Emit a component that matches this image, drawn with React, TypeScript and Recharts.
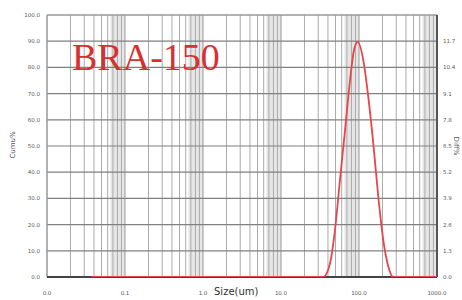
import React from 'react';
import { LineChart, Line, XAxis, YAxis, ReferenceLine, ReferenceArea } from 'recharts';

const sizes = [0.037, 34.8, 42.5, 49.2, 57.0, 66.2, 76.7, 86.3, 96.2, 113.5, 131.5, 152.5, 176.7, 205, 237.6, 275, 1000];
const diffPct = [0, 0, 0.68, 2.33, 4.81, 7.28, 9.75, 11.26, 11.67, 10.76, 8.94, 6.63, 3.98, 1.82, 0.52, 0, 0];

const xTicks = [0.01, 0.1, 1, 10, 100, 1000];
const leftTicks = [0, 10, 20, 30, 40, 50, 60, 70, 80, 90, 100];
const rightTicks = [0, 1.3, 2.6, 3.9, 5.2, 6.5, 7.8, 9.1, 10.4, 11.7];
const decades = [0.01, 0.1, 1, 10, 100];
const multipliers = [2, 3, 4, 5, 6, 7, 8, 9];
const hGrid = [10, 20, 30, 40, 50, 60, 70, 80, 90];

const data = sizes.map((s, i) => ({ size: s, diff: diffPct[i] }));
const vMinor = decades.flatMap((d) => multipliers.map((m) => +(d * m).toPrecision(3)));
const vMajor = [0.1, 1, 10, 100];

const tickStyle = { fontSize: 5.5, fill: '#5a5a5a', fontFamily: 'DejaVu Sans' };

export default function App() {
  return (
    <div style={{ position: 'absolute', left: 0, top: 0, width: 462, height: 300, background: '#fff' }}>
      <LineChart width={462} height={300} data={data} margin={{ top: 15, right: 0, left: 0, bottom: 0 }}>
        <XAxis
          dataKey="size"
          type="number"
          scale="log"
          domain={[0.01, 1000]}
          ticks={xTicks}
          allowDataOverflow
          height={23}
          tickLine={false}
          axisLine={false}
          tickSize={0}
          tickMargin={14}
          tick={tickStyle}
          tickFormatter={(v: number) => (v < 0.1 ? '0.0' : v.toFixed(1))}
        />
        <YAxis
          yAxisId="left"
          domain={[0, 100]}
          ticks={leftTicks}
          width={47}
          allowDataOverflow
          tickLine={false}
          axisLine={false}
          tickSize={0}
          tickMargin={7}
          tick={tickStyle}
          tickFormatter={(v: number) => v.toFixed(1)}
        />
        <YAxis
          yAxisId="right"
          orientation="right"
          domain={[0, 13]}
          ticks={rightTicks}
          width={25}
          allowDataOverflow
          tickLine={false}
          axisLine={false}
          tickSize={0}
          tickMargin={6}
          tick={{ ...tickStyle, textAnchor: 'start' }}
          tickFormatter={(v: number) => v.toFixed(1)}
        />
        {decades.map((d) => (
          <ReferenceArea key={'b' + d} yAxisId="left" x1={d * 6.5} x2={d * 10} y1={0} y2={100} fill="#e6e6e6" fillOpacity={1} stroke="none" />
        ))}
        {vMinor.map((v) => (
          <ReferenceLine key={'m' + v} yAxisId="left" x={v} stroke="#ababab" strokeWidth={1} />
        ))}
        {vMajor.map((v) => (
          <ReferenceLine key={'M' + v} yAxisId="left" x={v} stroke="#999" strokeWidth={1} />
        ))}
        {hGrid.map((v) => (
          <ReferenceLine key={'h' + v} yAxisId="left" y={v} stroke="#808080" strokeWidth={1.2} />
        ))}
        <ReferenceLine yAxisId="left" y={100} stroke="#999" strokeWidth={1.5} />
        <ReferenceLine yAxisId="left" x={0.01} stroke="#999" strokeWidth={1.5} />
        <ReferenceLine yAxisId="left" x={1000} stroke="#555" strokeWidth={2} />
        <ReferenceLine yAxisId="left" y={0} stroke="#444" strokeWidth={2} />
        <Line
          yAxisId="left"
          dataKey="diff"
          type="monotone"
          stroke="none"
          dot={false}
          activeDot={false}
          isAnimationActive={false}
        />
        <Line
          yAxisId="right"
          dataKey="diff"
          type="monotone"
          stroke="#e8454a"
          strokeWidth={1.8}
          dot={false}
          isAnimationActive={false}
        />
      </LineChart>
      <div
        style={{
          position: 'absolute', left: 72, top: 35, fontFamily: 'Liberation Serif', fontSize: 38,
          color: '#d8302f', lineHeight: '44px', whiteSpace: 'nowrap',
        }}
      >
        BRA-150
      </div>
      <div
        style={{
          position: 'absolute', left: 214, top: 286, fontFamily: 'DejaVu Sans', fontSize: 10,
          color: '#333', lineHeight: '12px', whiteSpace: 'nowrap',
        }}
      >
        Size(um)
      </div>
      <div
        style={{
          position: 'absolute', left: 13, top: 145, transform: 'translate(-50%, -50%) rotate(-90deg)',
          fontFamily: 'DejaVu Sans', fontSize: 7, color: '#555', whiteSpace: 'nowrap',
        }}
      >
        Cumu%
      </div>
      <div
        style={{
          position: 'absolute', left: 456, top: 146, transform: 'translate(-50%, -50%) rotate(90deg)',
          fontFamily: 'DejaVu Sans', fontSize: 7, color: '#555', whiteSpace: 'nowrap',
        }}
      >
        Diff%
      </div>
    </div>
  );
}
